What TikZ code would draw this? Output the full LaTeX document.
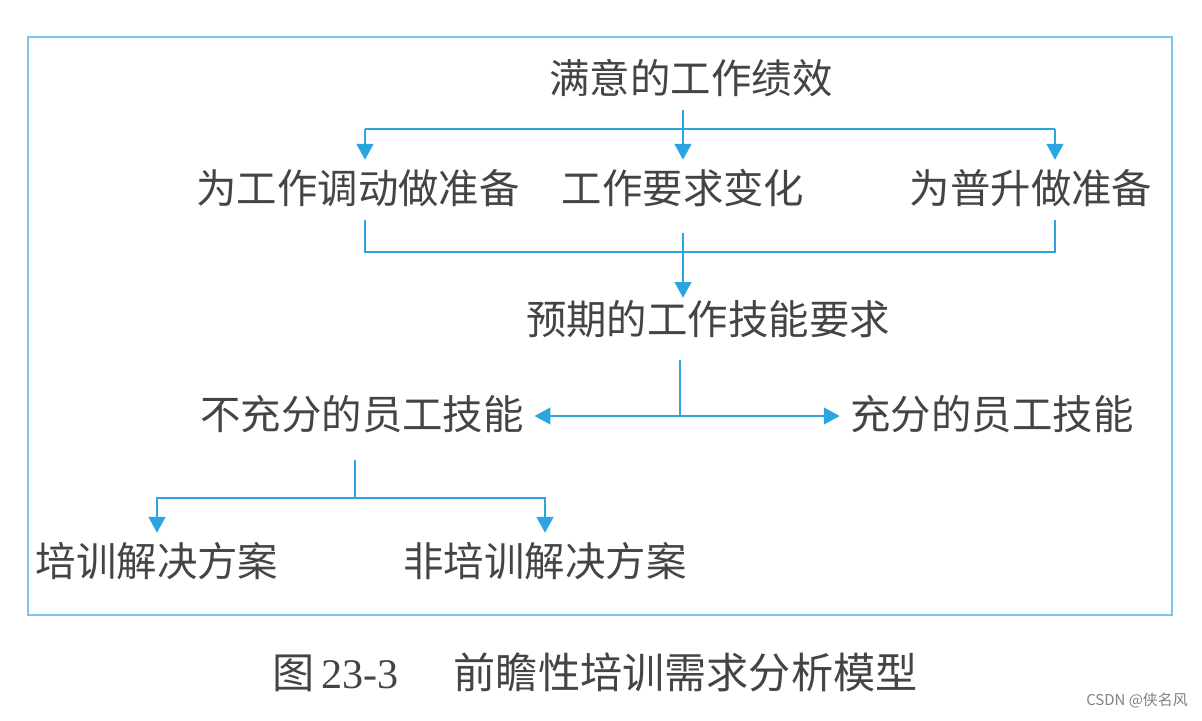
\documentclass[tikz,border=0pt]{standalone}
\usepackage{fontspec}
\setmainfont{Liberation Serif}
\newfontfamily\cjk{Noto Sans CJK SC}
\usetikzlibrary{arrows.meta}
\definecolor{linkblue}{HTML}{2AA5E0}
\definecolor{frameblue}{HTML}{7CC4EC}
\definecolor{textgray}{HTML}{444444}

\begin{document}
\begin{tikzpicture}[x=0.02cm, y=-0.02cm,
    label/.style={font=\cjk\fontsize{23pt}{28pt}\selectfont, text=textgray,
        text height=19pt, text depth=3.4pt, inner xsep=6pt, inner ysep=5.8pt},
    link/.style={draw=linkblue, line width=1.2pt},
    arr/.style={link, -{Triangle[length=9pt,width=9.5pt]}}]
    \useasboundingbox (0,0) rectangle (1202,720);
    \draw[frameblue, line width=1.5pt] (28,37) rectangle (1172,615);

    % top level
    \node[label] (perf) at (691,80) {满意的工作绩效};
    \node[label] (transfer) at (358,190) {为工作调动做准备};
    \node[label] (change) at (683,190) {工作要求变化};
    \node[label] (promo) at (1031,190) {为普升做准备};
    \node[label] (expect) at (708,321) {预期的工作技能要求};
    \node[label] (insuf) at (362,416) {不充分的员工技能};
    \node[label] (suf) at (992,416) {充分的员工技能};
    \node[label] (train) at (157,563) {培训解决方案};
    \node[label] (nontrain) at (545,563) {非培训解决方案};

    \coordinate (tl) at (365,129);
    \coordinate (tr) at (1055,129);
    \coordinate (bl) at (365,252);
    \coordinate (br) at (1055,252);
    \coordinate (split) at (680,416);
    \coordinate (fork) at (355,498);

    \draw[link] (tl) -- (tr);
    \draw[arr] (perf.south -| change) -- (change);
    \draw[arr] (tl) -- (transfer.north -| tl);
    \draw[arr] (tr) -- (promo.north -| tr);
    \draw[link] (transfer.south -| bl) -- (bl) -- (br) -- (promo.south -| br);
    \draw[arr, shorten <=7pt, shorten >=-4pt] (change.south) -- (expect.north -| change);

    \draw[link, shorten <=5pt] (expect.south -| split) -- (split);
    \draw[arr] (split) -- (insuf);
    \draw[arr] (split) -- (suf);

    \draw[link, shorten <=8pt] (insuf.south -| fork) -- (fork);
    \draw[arr] (fork) -| (train);
    \draw[arr] (fork) -| (nontrain);

    % caption
    \node[font=\fontsize{24pt}{29pt}\selectfont, text=textgray] (caption) at (595,672)
        {{\cjk 图}\,23-3\hspace{1.3em}{\cjk 前瞻性培训需求分析模型}};
    \node[font=\cjk\fontsize{8.5pt}{10pt}\selectfont, text=gray] (mark) at (1137,700) {CSDN @侠名风};
\end{tikzpicture}
\end{document}
